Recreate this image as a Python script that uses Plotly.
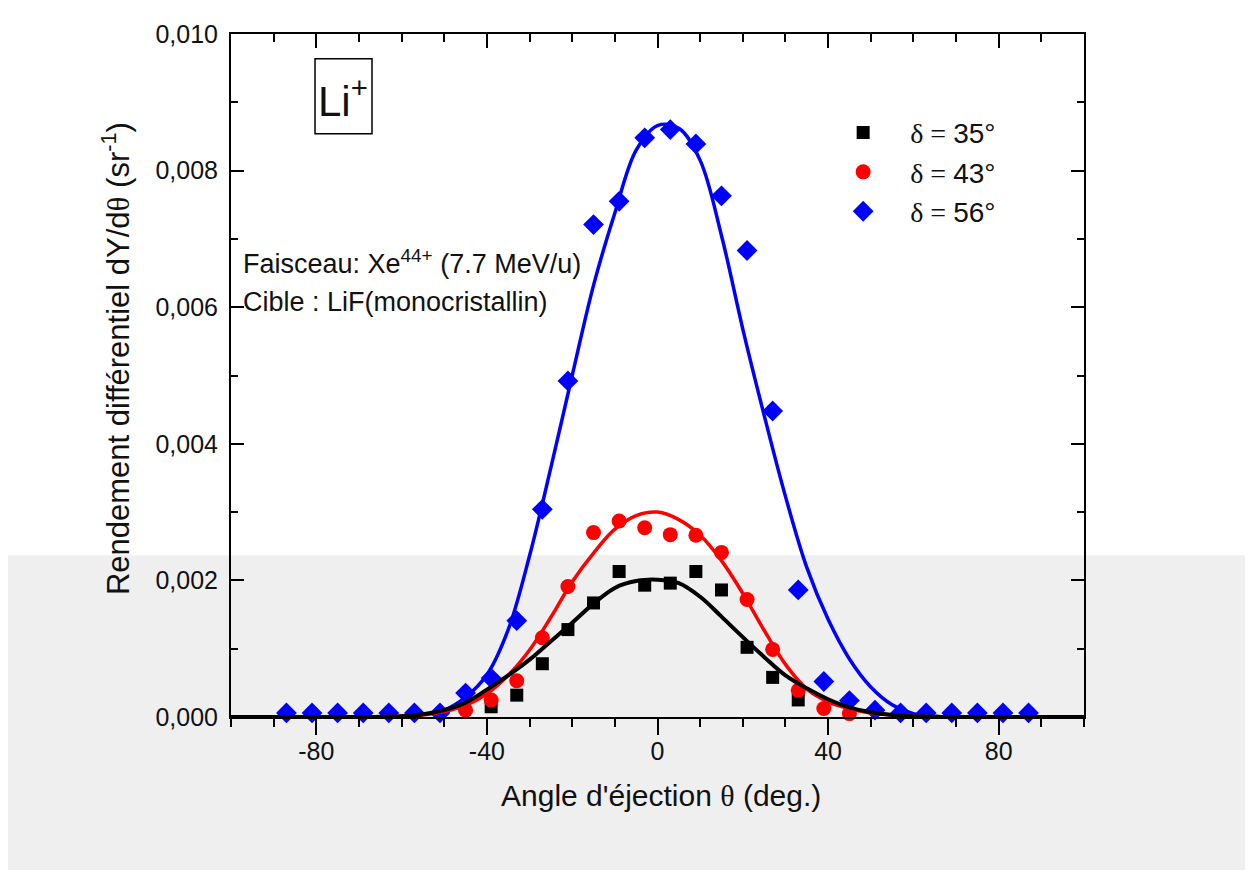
import plotly.graph_objects as go

# ---------------- data ----------------
theta_pts = [-87, -81, -75, -69, -63, -57, -51, -45, -39, -33, -27, -21, -15, -9, -3,
             3, 9, 15, 21, 27, 33, 39, 45, 51, 57, 63, 69, 75, 81, 87]
y56 = [0.00006, 0.00006, 0.00006, 0.00006, 0.00006, 0.00006, 0.00006, 0.00035, 0.00057,
       0.00141, 0.00304, 0.00492, 0.00721, 0.00755, 0.00848, 0.0086, 0.00839, 0.00763,
       0.00683, 0.00448, 0.00186, 0.00052, 0.00024, 0.0001, 0.00006, 0.00006, 0.00006,
       0.00006, 0.00006, 0.00006]

theta_43 = [-45, -39, -33, -27, -21, -15, -9, -3, 3, 9, 15, 21, 27, 33, 39, 45]
y43 = [0.0001, 0.00025, 0.00053, 0.00116, 0.00191, 0.0027, 0.00287, 0.00277, 0.00267,
       0.00266, 0.00241, 0.00172, 0.00099, 0.00039, 0.000125, 0.00005]

theta_35 = [-39, -33, -27, -21, -15, -9, -3, 3, 9, 15, 21, 27, 33]
y35 = [0.00015, 0.00032, 0.00078, 0.00128, 0.00167, 0.00213, 0.00193, 0.00196, 0.00213,
       0.00186, 0.00102, 0.00058, 0.00025]

# fitted curves, every 5 degrees
fit_x = [-100, -70, -65, -60, -55, -50, -45, -40, -35, -30, -25, -20, -15, -10, -5, 0,
         5, 10, 15, 20, 25, 30, 35, 40, 45, 50, 55, 60, 65, 70, 100]
fit56_y = [0, 0, 0.000005, 0.00001, 0.00004, 0.0001, 0.00029, 0.00062, 0.00128, 0.00236,
           0.00365, 0.005, 0.00632, 0.00738, 0.0083, 0.00866, 0.00862, 0.00815, 0.00705,
           0.00568, 0.00442, 0.00323, 0.00219, 0.00143, 0.00085, 0.00044, 0.00018,
           0.00005, 0.00001, 0, 0]
fit43_y = [0, 0, 0.000005, 0.00001, 0.00003, 0.00008, 0.00017, 0.00034, 0.00061, 0.00098,
           0.00146, 0.00198, 0.0024, 0.00275, 0.00295, 0.003, 0.00289, 0.00266, 0.00229,
           0.00181, 0.00127, 0.00077, 0.00041, 0.00022, 0.00012, 0.00006, 0.00003,
           0.00001, 0.000005, 0, 0]
fit35_y = [0, 0, 0.000003, 0.00001, 0.00004, 0.0001, 0.00021, 0.0004, 0.00061, 0.00084,
           0.00111, 0.00138, 0.00166, 0.00189, 0.00199, 0.00201, 0.00196, 0.00176, 0.00147,
           0.00117, 0.00088, 0.00061, 0.00042, 0.00026, 0.00014, 0.00007, 0.00003,
           0.00001, 0.000003, 0, 0]

x_ticks = [-80, -40, 0, 40, 80]
x_tick_labels = ["-80", "-40", "0", "40", "80"]
y_ticks = [0.000, 0.002, 0.004, 0.006, 0.008, 0.010]

names = ["δ = 35°", "δ = 43°", "δ = 56°"]
colors = ["#000000", "#ff0000", "#0000ff"]

FONT = "Liberation Sans, Arial, sans-serif"
SERIF = "Liberation Serif, Times New Roman, serif"


def leg_label(lbl):
    delta, rest = lbl.split(" = ")
    return f'<span style="font-family:{SERIF}">{delta} = </span>{rest}'


fig = go.Figure()

# markers
fig.add_trace(go.Scatter(x=theta_35, y=y35, mode="markers", name=leg_label(names[0]),
                         marker=dict(symbol="square", size=13, color=colors[0]),
                         cliponaxis=False))
fig.add_trace(go.Scatter(x=theta_43, y=y43, mode="markers", name=leg_label(names[1]),
                         marker=dict(symbol="circle", size=15, color=colors[1]),
                         cliponaxis=False))
fig.add_trace(go.Scatter(x=theta_pts, y=y56, mode="markers", name=leg_label(names[2]),
                         marker=dict(symbol="diamond", size=16, color=colors[2]),
                         cliponaxis=False))

# fit curves
fig.add_trace(go.Scatter(x=fit_x, y=fit56_y, mode="lines", showlegend=False,
                         line=dict(color=colors[2], width=3.5, shape="spline", smoothing=1)))
fig.add_trace(go.Scatter(x=fit_x, y=fit43_y, mode="lines", showlegend=False,
                         line=dict(color=colors[1], width=3.5, shape="spline", smoothing=1)))
fig.add_trace(go.Scatter(x=fit_x, y=fit35_y, mode="lines", showlegend=False,
                         line=dict(color=colors[0], width=4, shape="spline", smoothing=1)))

# empty trace to carry the top axis
fig.add_trace(go.Scatter(x=[], y=[], xaxis="x2", showlegend=False, hoverinfo="skip"))

fig.update_layout(
    width=1253, height=870,
    margin=dict(l=223, r=177, t=17, b=161),
    paper_bgcolor="white", plot_bgcolor="rgba(0,0,0,0)",
    separators=",.",
    font=dict(family=FONT, color="#111111", size=25),
    showlegend=True,
    legend=dict(x=0.686, y=0.892, xanchor="left", yanchor="top",
                bgcolor="rgba(0,0,0,0)", font=dict(size=28, family=FONT, color="#111111"),
                itemwidth=84, tracegroupgap=0),
    xaxis=dict(range=[-100, 100], tickvals=x_ticks, ticktext=x_tick_labels, ticks="outside",
               ticklen=16, tickwidth=2, tickcolor="#000", showline=True, linewidth=2,
               linecolor="#000", mirror=True, showgrid=False, zeroline=False,
               tickfont=dict(size=25, family=FONT),
               minor=dict(dtick=10, tick0=0, ticks="outside", ticklen=8, tickwidth=2,
                          tickcolor="#000"),
               ticklabelstandoff=-5),
    xaxis2=dict(range=[-100, 100], overlaying="x", side="top", anchor="y",
                tickvals=x_ticks, ticks="inside", ticklen=14, tickwidth=2, tickcolor="#000",
                showticklabels=False, showline=False, showgrid=False, zeroline=False,
                minor=dict(dtick=10, tick0=0, ticks="inside", ticklen=8, tickwidth=2,
                           tickcolor="#000")),
    yaxis=dict(range=[0, 0.010], tickvals=y_ticks, tickformat=".3f", ticks="inside",
               ticklen=13, tickwidth=2, tickcolor="#000", showline=True, linewidth=2,
               linecolor="#000", mirror="ticks", showgrid=False, zeroline=False,
               tickfont=dict(size=25, family=FONT),
               minor=dict(dtick=0.001, ticks="inside", ticklen=7, tickwidth=2,
                          tickcolor="#000"),
               ticklabelstandoff=6),
)

# grey scan band behind the lower part
fig.add_shape(type="rect", xref="paper", yref="paper", x0=-0.262, x1=1.21, y0=-0.25, y1=0.237,
              fillcolor="#efefef", line=dict(width=0), layer="below")

# Li+ box
fig.add_shape(type="rect", xref="paper", yref="paper", x0=0.0985, x1=0.1653, y0=0.854,
              y1=0.9639, line=dict(color="#000", width=1.5), fillcolor="rgba(0,0,0,0)")

annotations = [
    dict(text="Li<sup>+</sup>", x=0.1313, y=0.907, font=dict(size=42)),
    dict(text="Faisceau: Xe<sup>44+</sup> (7.7 MeV/u)", x=0.012, y=0.666, xanchor="left",
         font=dict(size=27)),
    dict(text="Cible : LiF(monocristallin)", x=0.012, y=0.607, xanchor="left",
         font=dict(size=27)),
    dict(text="Angle d'éjection <span style=\"font-family:" + SERIF + "\">θ</span> (deg.)",
         x=0.504, y=-0.1156, font=dict(size=30)),
    dict(text="Rendement différentiel dY/d<span style=\"font-family:" + SERIF +
         "\">θ</span> (sr<sup>-1</sup>)", x=-0.1355, y=0.5246, textangle=-90,
         font=dict(size=31)),
]
for a in annotations:
    a.setdefault("xanchor", "center")
    a.setdefault("yanchor", "middle")
    fig.add_annotation(xref="paper", yref="paper", showarrow=False, **a)

fig.write_html("out.html")
